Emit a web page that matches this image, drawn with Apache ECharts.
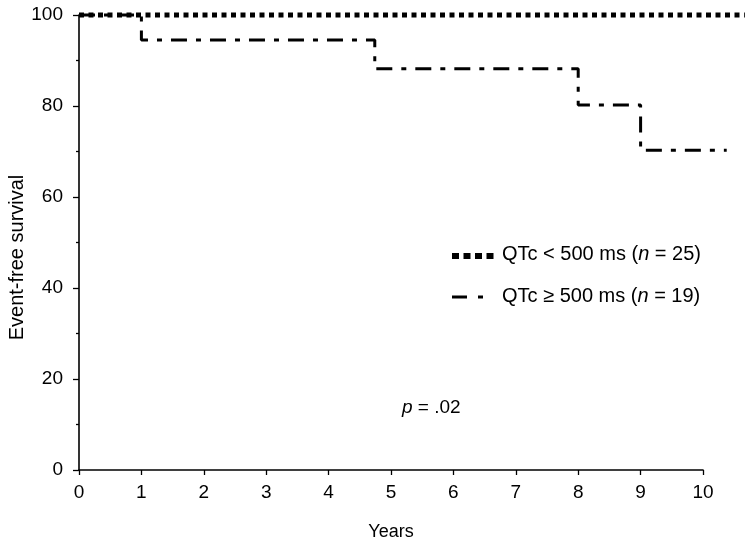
<!DOCTYPE html>
<html><head><meta charset="utf-8">
<script src="https://cdn.jsdelivr.net/npm/echarts@6/dist/echarts.min.js"></script>
<style>html,body{margin:0;padding:0;background:#fff}#c{width:745px;height:541px}</style>
</head><body><div id="c"></div>
<script>
// Data
const xTicks = [0,1,2,3,4,5,6,7,8,9,10];
const yTicks = [0,20,40,60,80,100];
const seriesNames = ['QTc<500 ms (n=25)', 'QTc≥500 ms (n=19)'];
// step curves: [years, event-free survival %]
const lowQTc = [[0,100],[10.67,100]];
const highQTc = [[0,100],[1,100],[1,94.5],[4.74,94.5],[4.74,88.2],[8,88.2],[8,80.2],[9,80.2],[9,70.3],[10.38,70.3]];
const pValueText = '.02';

const FONT = '"Liberation Sans", Arial, Helvetica, sans-serif';
const L = 79, T = 15, B = 71, R_AX = 42;
const plotW = 745 - L - R_AX;
const unitPx = plotW / (xTicks[xTicks.length-1] - xTicks[0]);
const seriesXMax = (745 - L) / unitPx;

const chart = echarts.init(document.getElementById('c'));
chart.setOption({
  backgroundColor: '#fff',
  animation: false,
  grid: [
    { left: L, right: R_AX, top: T, bottom: B, containLabel: false, outerBoundsMode: 'none' },
    { left: L, right: 0, top: T, bottom: B, containLabel: false, outerBoundsMode: 'none' }
  ],
  xAxis: [{
    gridIndex: 0, type: 'value', min: xTicks[0], max: xTicks[xTicks.length-1], interval: 1,
    name: 'Years', nameLocation: 'middle', nameGap: 53, nameMoveOverlap: false,
    nameTextStyle: { fontFamily: FONT, fontSize: 18, color: '#000' },
    axisLine: { lineStyle: { color: '#000', width: 1.6 } },
    axisTick: { length: 5, lineStyle: { color: '#000', width: 1.3 } },
    axisLabel: { fontFamily: FONT, fontSize: 19, color: '#000', margin: 13 },
    splitLine: { show: false }
  }, {
    gridIndex: 1, type: 'value', min: 0, max: seriesXMax, show: false
  }],
  yAxis: [{
    gridIndex: 0, type: 'value', min: yTicks[0], max: yTicks[yTicks.length-1], interval: 20,
    name: 'Event-free survival', nameLocation: 'middle', nameGap: 52, nameMoveOverlap: false,
    nameTextStyle: { fontFamily: FONT, fontSize: 20, color: '#000', padding: [0, 30, 0, 0] },
    axisLine: { show: true, lineStyle: { color: '#000', width: 1.6 } },
    axisTick: { show: true, length: 6, lineStyle: { color: '#000', width: 1.3 } },
    minorTick: { show: true, splitNumber: 2, length: 3, lineStyle: { color: '#000', width: 1.3 } },
    axisLabel: { fontFamily: FONT, fontSize: 19, color: '#000', margin: 16 },
    splitLine: { show: false }, minorSplitLine: { show: false }
  }, {
    gridIndex: 1, type: 'value', min: yTicks[0], max: yTicks[yTicks.length-1], show: false
  }],
  graphic: [
    { type: 'line', shape: { x1: 452, y1: 256, x2: 494, y2: 256 },
      style: { stroke: '#000', lineWidth: 6, lineDash: [7, 4.5], lineCap: 'butt' } },
    { type: 'line', shape: { x1: 452, y1: 297, x2: 484, y2: 297 },
      style: { stroke: '#000', lineWidth: 3, lineDash: [15, 11, 5, 30], lineCap: 'butt' } },
    { type: 'text', left: 502, top: 244,
      style: { text: 'QTc < 500 ms ({i|n} = 25)', font: '20px ' + FONT, fill: '#000',
        rich: { i: { fontStyle: 'italic', fontFamily: FONT, fontSize: 20, fill: '#000' } } } },
    { type: 'text', left: 502, top: 286,
      style: { text: 'QTc ≥ 500 ms ({i|n} = 19)', font: '20px ' + FONT, fill: '#000',
        rich: { i: { fontStyle: 'italic', fontFamily: FONT, fontSize: 20, fill: '#000' } } } },
    { type: 'text', left: 402, top: 398,
      style: { text: '{i|p} = ' + pValueText, font: '19px ' + FONT, fill: '#000',
        rich: { i: { fontStyle: 'italic', fontFamily: FONT, fontSize: 19, fill: '#000' } } } }
  ],
  series: [
    { name: seriesNames[0], type: 'line', xAxisIndex: 1, yAxisIndex: 1, data: lowQTc, symbol: 'none', clip: false, z: 3,
      lineStyle: { color: '#000', width: 5, type: [5, 4.5], cap: 'butt' } },
    { name: seriesNames[1], type: 'line', xAxisIndex: 1, yAxisIndex: 1, data: highQTc, symbol: 'none', clip: false, z: 2,
      lineStyle: { color: '#000', width: 3, type: [16, 9, 5, 9], cap: 'butt' } }
  ]
});
</script></body></html>
